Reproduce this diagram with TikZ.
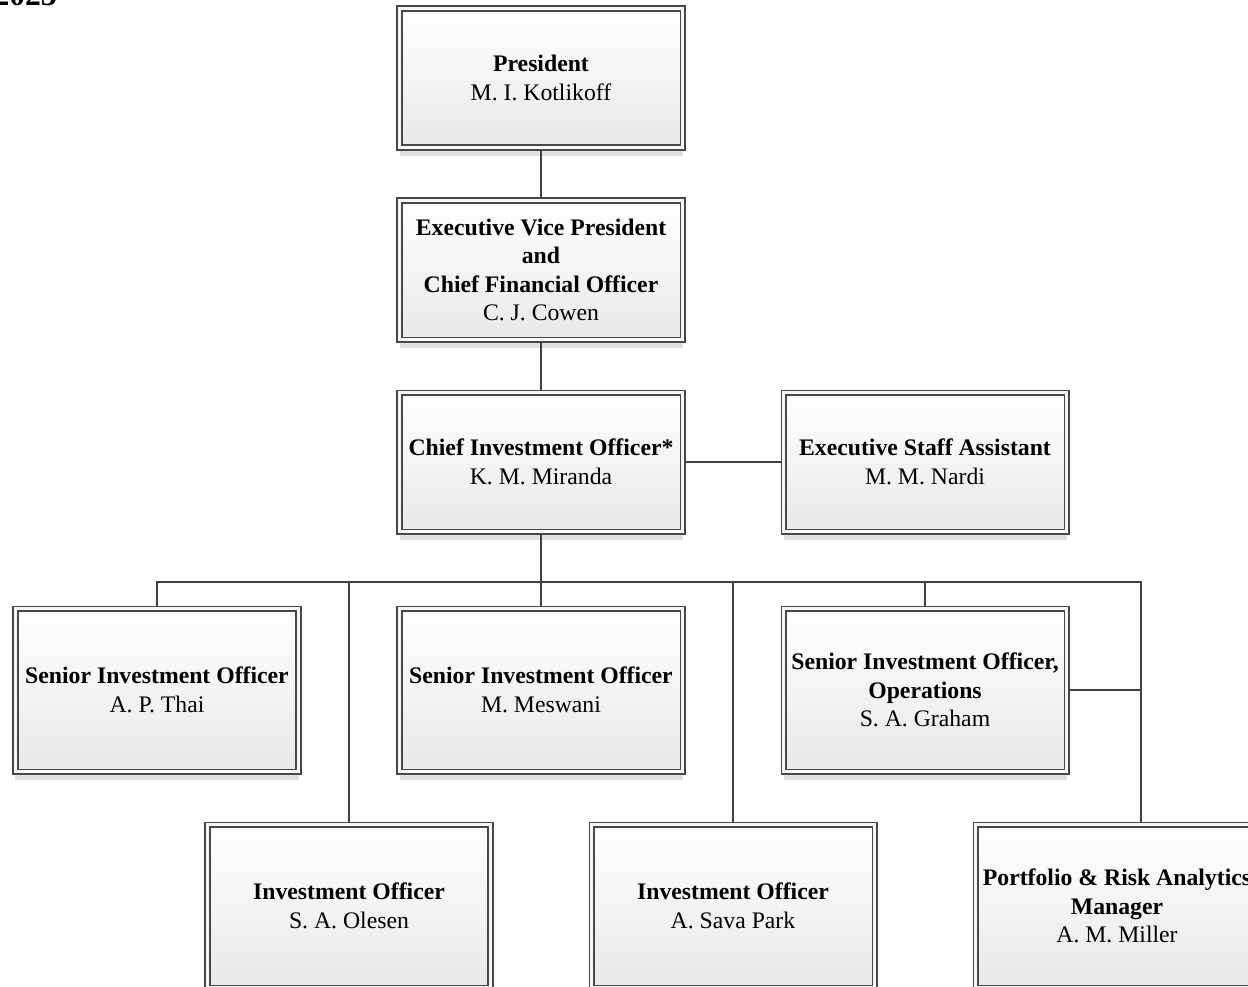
\documentclass[tikz,border=0pt]{standalone}
\usepackage{fontspec}
\setmainfont{Liberation Serif}
\usetikzlibrary{positioning, shadows}

\begin{document}
\begin{tikzpicture}[
        orgbox/.style={
            rectangle,
            draw=black!72,
            double=black!3,
            double distance=0.078cm,
            line width=0.6pt,
            top color=white,
            bottom color=black!9,
            drop shadow={shadow xshift=0cm, shadow yshift=-0.17cm, fill=black!12, opacity=1},
            minimum width=5.66cm,
            minimum height=2.78cm,
            outer sep=0.05cm,
            align=center,
            font=\fontsize{13.5}{16.2}\selectfont
        },
        tallbox/.style={
            orgbox,
            minimum height=3.26cm
        },
        link/.style={
            draw=black!75,
            line width=0.6pt
        }
    ]

    \useasboundingbox (0,0) rectangle (24.96,-19.74);

    % Year of the chart, cut by the page edge
    \node[anchor=base east, font=\fontsize{18}{21.6}\selectfont\bfseries] (year) at (1.26,-0.1) {2023};

    % Top of the chain
    \node[orgbox] (president) at (10.82,-1.56) {\textbf{President}\\M. I. Kotlikoff};
    \node[orgbox, below=0.96cm of president] (evp) {\textbf{Executive Vice President}\\\textbf{and}\\\textbf{Chief Financial Officer}\\C. J. Cowen};
    \node[orgbox, below=0.96cm of evp] (cio) {\textbf{Chief Investment Officer*}\\K. M. Miranda};
    \node[orgbox, right=1.92cm of cio] (esa) {\textbf{Executive Staff Assistant}\\M. M. Nardi};

    % Senior officers
    \node[tallbox, below=1.44cm of cio] (meswani) {\textbf{Senior Investment Officer}\\M. Meswani};
    \node[tallbox, left=1.92cm of meswani] (thai) {\textbf{Senior Investment Officer}\\A. P. Thai};
    \node[tallbox, right=1.92cm of meswani] (graham) {\textbf{Senior Investment Officer,}\\\textbf{Operations}\\S. A. Graham};

    % Investment officers
    \node[tallbox, below=0.96cm of thai, xshift=3.84cm] (olesen) {\textbf{Investment Officer}\\S. A. Olesen};
    \node[tallbox, right=1.92cm of olesen] (savapark) {\textbf{Investment Officer}\\A. Sava Park};
    \node[tallbox, right=1.92cm of savapark] (miller) {\textbf{Portfolio \& Risk Analytics}\\\textbf{Manager}\\A. M. Miller};

    % Connectors
    \coordinate (bus) at ([yshift=-0.96cm]cio.south);
    \coordinate (sidebus) at ([xshift=1.44cm]graham.east);
    \draw[link] (president) -- (evp);
    \draw[link] (evp) -- (cio);
    \draw[link] (cio) -- (esa);
    \draw[link] (cio.south) -- (bus);
    \draw[link] (thai.north) |- (bus) -| (sidebus |- miller.north);
    \draw[link] (graham.east) -- (sidebus);
    \foreach \n in {olesen, meswani, savapark, graham}
        \draw[link] (bus -| \n.north) -- (\n.north);

\end{tikzpicture}
\end{document}
